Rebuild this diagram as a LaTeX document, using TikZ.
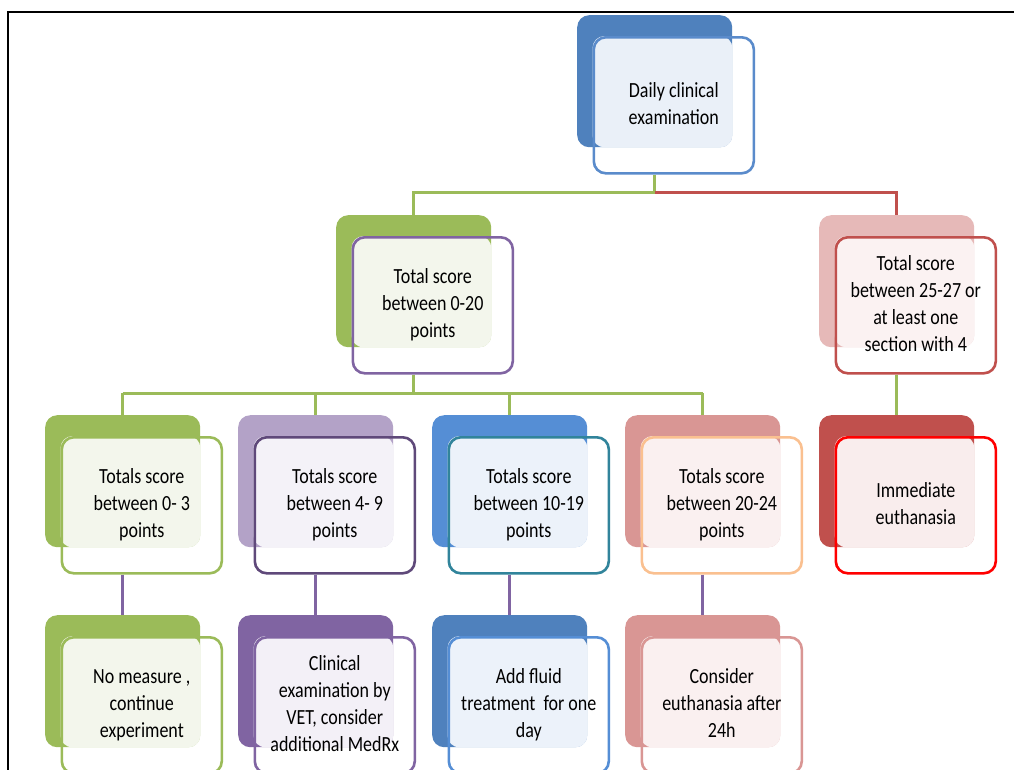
\documentclass[tikz,border=0pt]{standalone}
\usepackage{fontspec}
\setmainfont{Carlito}
\usetikzlibrary{calc}
\definecolor{cblueback}{HTML}{4F81BD}
\definecolor{cbluelight}{HTML}{EAF0F8}
\definecolor{cblueline}{HTML}{5A8BCB}
\definecolor{cgreen}{HTML}{9BBB59}
\definecolor{cgreenlight}{HTML}{F3F6EC}
\definecolor{cpurple}{HTML}{8064A2}
\definecolor{cpurplelight}{HTML}{F3F0F7}
\definecolor{cpinkback}{HTML}{E6B9B8}
\definecolor{cpinklight}{HTML}{FBF2F2}
\definecolor{cred}{HTML}{C0504D}
\definecolor{clavback}{HTML}{B3A2C7}
\definecolor{clavlight}{HTML}{F4F2F8}
\definecolor{cdarkpurple}{HTML}{5F497A}
\definecolor{cmidblue}{HTML}{558ED5}
\definecolor{cmidbluelight}{HTML}{ECF2FA}
\definecolor{cteal}{HTML}{31849B}
\definecolor{croseback}{HTML}{D99694}
\definecolor{croselight}{HTML}{FAF0F0}
\definecolor{corange}{HTML}{FAC090}
\definecolor{cimmlight}{HTML}{F9EDED}
\definecolor{cbrightred}{HTML}{FF0000}
\tikzset{
  backbox/.style={rectangle, rounded corners=12pt, minimum width=155pt, minimum height=132pt, inner sep=0pt, anchor=north west, draw=none},
  frontbox/.style={rectangle, rounded corners=12pt, minimum width=160pt, minimum height=136pt, inner sep=0pt, anchor=north west, line width=2.6pt},
  lbl/.style={inner sep=0pt, font=\fontsize{18}{22.5}\selectfont},
  link/.style={line width=3pt},
  frame/.style={line width=2pt, black},
}
\newcommand{\pairbox}[7]{%
  \node[backbox, fill=#4] (#1b) at (#2,#3) {};
  \fill[#5, rounded corners=12pt] ($(#1b.north west)+(15.5,21)$) rectangle (#1b.south east);
  \node[frontbox, draw=#6] (#1f) at ($(#1b.north west)+(15.5,21)$) {};
  \node[lbl] (#1t) at (#1f.center) {\scalebox{1}[1.2]{\begin{tabular}{@{}c@{}}#7\end{tabular}}};
}
\begin{document}
\begin{tikzpicture}[x=1pt,y=-1pt]
\useasboundingbox (0,0) rectangle (1014,769);
\clip (0,0) rectangle (1014,769);
\fill[white] (0,0) rectangle (1014,769);
\draw[frame] (8,780) -- (8,12) -- (1020,12);
% boxes
\pairbox{top}{577}{15}{cblueback}{cbluelight}{cblueline}{Daily clinical\\examination}
\pairbox{mid}{336}{215}{cgreen}{cgreenlight}{cpurple}{Total score\\between 0-20\\points}
\pairbox{rt}{819}{215}{cpinkback}{cpinklight}{cred}{Total score\\between 25-27 or\\at least one\\section with 4}
\pairbox{la}{45}{415}{cgreen}{cgreenlight}{cgreen}{Totals score\\between 0- 3\\points}
\pairbox{lb}{238}{415}{clavback}{clavlight}{cdarkpurple}{Totals score\\between 4- 9\\points}
\pairbox{lc}{432}{415}{cmidblue}{cmidbluelight}{cteal}{Totals score\\between 10-19\\points}
\pairbox{ld}{625}{415}{croseback}{croselight}{corange}{Totals score\\between 20-24\\points}
\pairbox{im}{819}{415}{cred}{cimmlight}{cbrightred}{Immediate\\euthanasia}
\pairbox{na}{45}{615}{cgreen}{cgreenlight}{cgreen}{No measure ,\\continue\\experiment}
\pairbox{nb}{238}{615}{cpurple}{cpurplelight}{cpurple}{Clinical\\examination by\\VET, consider\\additional MedRx}
\pairbox{nc}{432}{615}{cblueback}{cmidbluelight}{cmidblue}{Add fluid\\treatment~ for one\\day}
\pairbox{nd}{625}{615}{croseback}{croselight}{croseback}{Consider\\euthanasia after\\24h}
% connectors
\coordinate (bus1) at (0,192);
\coordinate (bus2) at (0,393);
\draw[link, cgreen] (topb.center |- topf.south) -- (topb.center |- bus1) -- (midb.center |- bus1) -- (midb.north);
\draw[link, cred] (topb.center |- bus1) -- (rtb.center |- bus1) -- (rtb.north);
\draw[link, cgreen] (midb.center |- midf.south) -- (midb.center |- bus2);
\draw[link, cgreen] (lab.center |- bus2) -- (ldb.center |- bus2);
\foreach \n in {la,lb,lc,ld}{
  \draw[link, cgreen] (\n b.center |- bus2) -- (\n b.north);
}
\draw[link, cgreen] (rtb.center |- rtf.south) -- (imb.north);
\draw[link, cpurple] (lab.center |- laf.south) -- (nab.north);
\draw[link, cpurple] (lbb.center |- lbf.south) -- (nbb.north);
\draw[link, cpurple] (lcb.center |- lcf.south) -- (ncb.north);
\draw[link, cpurple] (ldb.center |- ldf.south) -- (ndb.north);
\end{tikzpicture}
\end{document}
